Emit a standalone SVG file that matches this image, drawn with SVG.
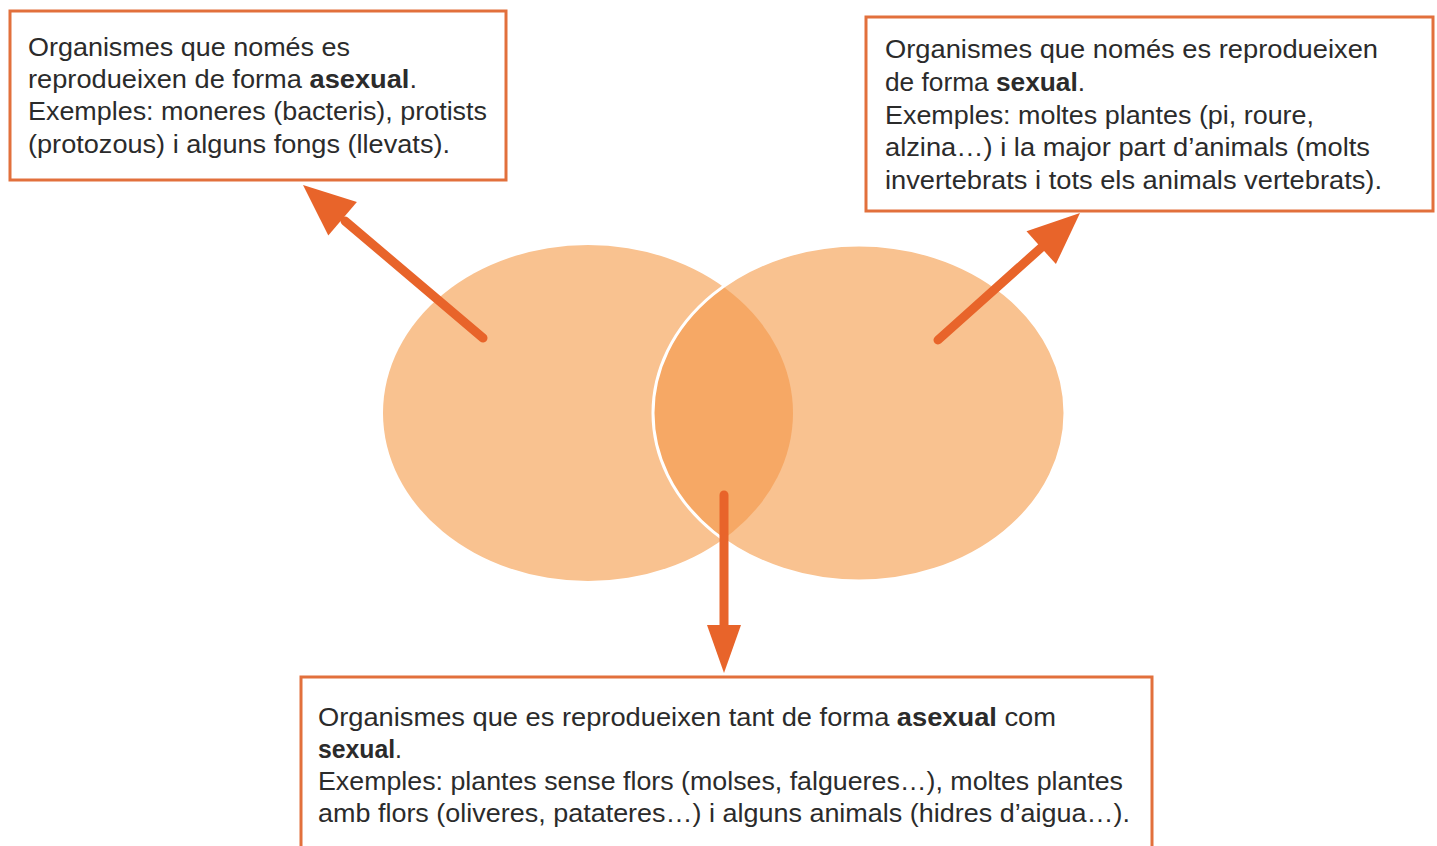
<svg xmlns="http://www.w3.org/2000/svg" width="1437" height="846" viewBox="0 0 1437 846">
<style>
.box{fill:#ffffff;stroke:#e2703c;stroke-width:3}
.t{font-family:"Liberation Sans",Arial,sans-serif;font-size:25.5px;fill:#2b2b2b}
.b{font-weight:bold}
.conn{stroke:#e8642a;stroke-width:9;stroke-linecap:round;fill:none}
.head{fill:#e8642a}
</style>
<defs>
<clipPath id="clipR"><ellipse cx="859" cy="413" rx="206" ry="168"/></clipPath>
</defs>
<rect width="1437" height="846" fill="#ffffff"/>
<g id="venn">
<ellipse cx="588" cy="413" rx="205" ry="168" fill="#f9c290"/>
<ellipse cx="859" cy="413" rx="206" ry="168" fill="#f9c290"/>
<ellipse cx="588" cy="413" rx="205" ry="168" fill="#f6a865" clip-path="url(#clipR)"/>
<ellipse cx="859" cy="413" rx="206" ry="168" fill="none" stroke="#ffffff" stroke-width="3"/>
</g>
<g id="connectors">
<line class="conn" x1="483" y1="338" x2="345" y2="221"/>
<polygon class="head" points="303,185 356.9,201.9 328.3,235.5"/>
<line class="conn" x1="938" y1="340" x2="1043" y2="246"/>
<polygon class="head" points="1080,213 1055.9,264.1 1026.5,231.3"/>
<line class="conn" x1="724" y1="495" x2="724" y2="628"/>
<polygon class="head" points="724,673 707,625 741,625"/>
</g>
<g id="box-asexual">
<rect class="box" x="10" y="11" width="496" height="169"/>
<text class="t" x="28" y="56" textLength="322" lengthAdjust="spacingAndGlyphs">Organismes que només es</text>
<text class="t" x="28" y="88" textLength="389" lengthAdjust="spacingAndGlyphs">reprodueixen de forma <tspan class="b">asexual</tspan>.</text>
<text class="t" x="28" y="120" textLength="459" lengthAdjust="spacingAndGlyphs">Exemples: moneres (bacteris), protists</text>
<text class="t" x="28" y="153" textLength="422" lengthAdjust="spacingAndGlyphs">(protozous) i alguns fongs (llevats).</text>
</g>
<g id="box-sexual">
<rect class="box" x="866" y="17" width="567" height="194"/>
<text class="t" x="885" y="58" textLength="493" lengthAdjust="spacingAndGlyphs">Organismes que només es reprodueixen</text>
<text class="t" x="885" y="91" textLength="200" lengthAdjust="spacingAndGlyphs">de forma <tspan class="b">sexual</tspan>.</text>
<text class="t" x="885" y="124" textLength="429" lengthAdjust="spacingAndGlyphs">Exemples: moltes plantes (pi, roure,</text>
<text class="t" x="885" y="156" textLength="485" lengthAdjust="spacingAndGlyphs">alzina…) i la major part d’animals (molts</text>
<text class="t" x="885" y="189" textLength="497" lengthAdjust="spacingAndGlyphs">invertebrats i tots els animals vertebrats).</text>
</g>
<g id="box-both">
<rect class="box" x="301" y="677" width="851" height="190"/>
<text class="t" x="318" y="726" textLength="738" lengthAdjust="spacingAndGlyphs">Organismes que es reprodueixen tant de forma <tspan class="b">asexual</tspan> com</text>
<text class="t" x="318" y="758" textLength="84" lengthAdjust="spacingAndGlyphs"><tspan class="b">sexual</tspan>.</text>
<text class="t" x="318" y="790" textLength="805" lengthAdjust="spacingAndGlyphs">Exemples: plantes sense flors (molses, falgueres…), moltes plantes</text>
<text class="t" x="318" y="822" textLength="812" lengthAdjust="spacingAndGlyphs">amb flors (oliveres, patateres…) i alguns animals (hidres d’aigua…).</text>
</g>
</svg>
